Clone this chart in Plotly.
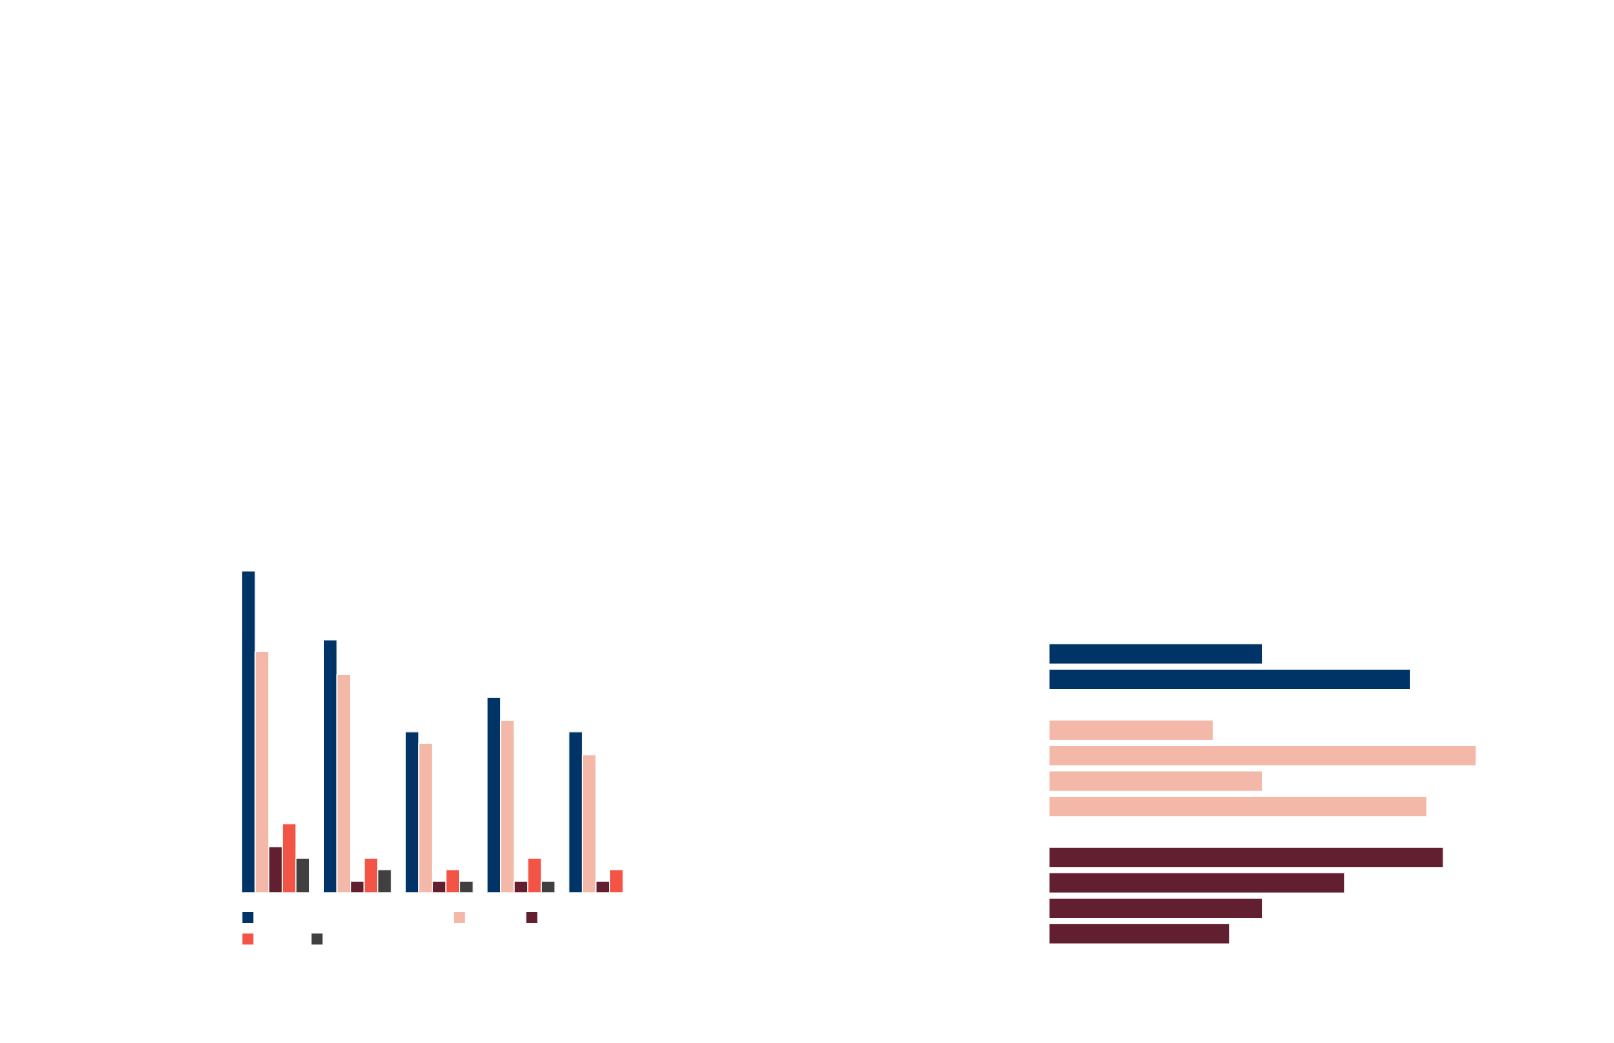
import plotly.graph_objects as go

# ---------------- data ----------------
groups = ["Group 1", "Group 2", "Group 3", "Group 4", "Group 5"]
series_names = ["All respondents in the sample", "Male", "Women", "Rest", "N/A"]
series_colors = ["#003366", "#F4B8A8", "#611F30", "#F25545", "#404040"]
blue_vals = [28, 22, 14, 17, 14]
pink_vals = [21, 19, 13, 15, 12]
maroon_vals = [4, 1, 1, 1, 1]
red_vals = [6, 3, 2, 3, 2]
gray_vals = [3, 2, 1, 1, 0]
left_values = [blue_vals, pink_vals, maroon_vals, red_vals, gray_vals]

right_rows = ["A1", "A2", " ", "B1", "B2", "B3", "B4", "  ", "C1", "C2", "C3", "C4"]
right_blue_cats = ["A1", "A2"]
right_blue_vals = [13, 22]
right_pink_cats = ["B1", "B2", "B3", "B4"]
right_pink_vals = [10, 26, 13, 23]
right_maroon_cats = ["C1", "C2", "C3", "C4"]
right_maroon_vals = [24, 18, 13, 11]

W, H = 1614, 1043
OFF = 8  # page body margin


def fx(px):
    return (px - OFF) / W


def fy(px):
    return 1 - (px - OFF) / H


fig = go.Figure()

for i, (name, vals) in enumerate(zip(series_names, left_values)):
    fig.add_trace(go.Bar(
        x=groups, y=vals, name=name,
        marker=dict(color=series_colors[i], line=dict(color="white", width=1)),
        xaxis="x", yaxis="y",
        legend="legend" if i < 3 else "legend2",
    ))

for cats, vals, col in [(right_blue_cats, right_blue_vals, series_colors[0]),
                        (right_pink_cats, right_pink_vals, series_colors[1]),
                        (right_maroon_cats, right_maroon_vals, series_colors[2])]:
    fig.add_trace(go.Bar(
        y=cats, x=vals, orientation="h",
        marker=dict(color=col, line=dict(color="white", width=1)),
        xaxis="x2", yaxis="y2", showlegend=False, width=0.8,
    ))

axis_common = dict(showgrid=False, zeroline=False, showline=False,
                   showticklabels=False, ticks="")

fig.update_layout(
    width=W, height=H,
    margin=dict(l=0, r=0, t=0, b=0),
    paper_bgcolor="white", plot_bgcolor="white",
    font=dict(family="Open Sans", size=12, color="white"),
    barmode="group", bargap=0.17, bargroupgap=0,
    xaxis=dict(domain=[fx(234.7), fx(643.7)], **axis_common),
    yaxis=dict(domain=[fy(892.7), fy(554.9)], range=[0, 29.4], **axis_common),
    xaxis2=dict(domain=[fx(1049), fx(1497.5)], range=[0, 27.3], anchor="y2", **axis_common),
    yaxis2=dict(domain=[fy(946.5), fy(641.2)], anchor="x2",
                categoryorder="array", categoryarray=right_rows,
                autorange="reversed", **axis_common),
    legend=dict(orientation="h", x=fx(227.9), xanchor="left", y=fy(903), yanchor="top",
                font=dict(color="white", size=12), bgcolor="rgba(0,0,0,0)"),
    legend2=dict(orientation="h", x=fx(227.9), xanchor="left", y=fy(924.5), yanchor="top",
                 font=dict(color="white", size=12), bgcolor="rgba(0,0,0,0)"),
    showlegend=True,
)

fig.write_html("out.html")
